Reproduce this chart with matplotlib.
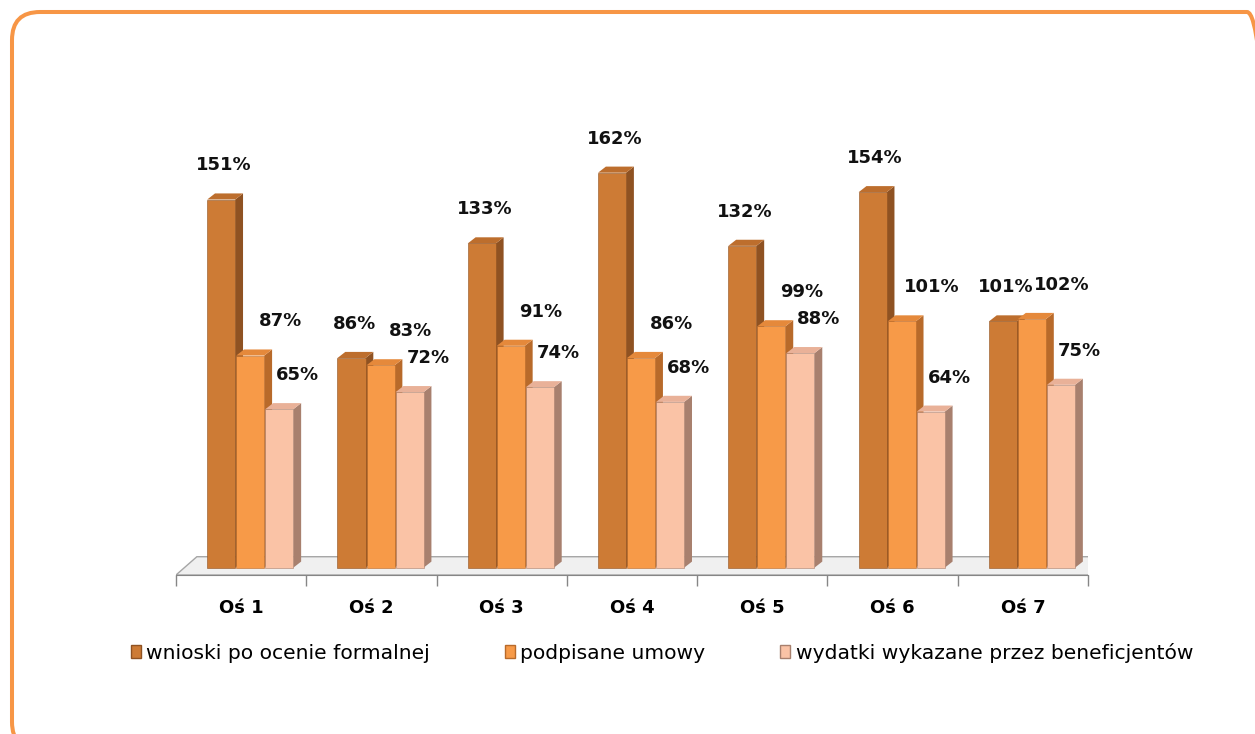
import matplotlib.pyplot as plt
from matplotlib.patches import Polygon, Patch, FancyBboxPatch
from matplotlib.transforms import IdentityTransform

categories = ["Oś 1", "Oś 2", "Oś 3", "Oś 4", "Oś 5", "Oś 6", "Oś 7"]
series_names = ["wnioski po ocenie formalnej", "podpisane umowy",
                "wydatki wykazane przez beneficjentów"]
wnioski = [151, 86, 133, 162, 132, 154, 101]
umowy = [87, 83, 91, 86, 99, 101, 102]
wydatki = [65, 72, 74, 68, 88, 64, 75]
series = [wnioski, umowy, wydatki]

front = ["#CD7B35", "#F79A48", "#FAC3A6"]
side = ["#8F5222", "#B86A2A", "#A8806E"]
top = ["#BD6E2D", "#E5893B", "#E9B198"]
label_dx = [0.02, 0.23, 0.14]

fig = plt.figure(figsize=(12.55, 7.34), dpi=100)
ax = fig.add_axes([176 / 1255, (734 - 575) / 734, 912 / 1255, 434 / 734])

w = 0.215
step = 0.223
dx = 0.06     # depth offset in x (data units)
dy = 2.5      # depth offset in y (data units)

# floor
floor = Polygon([(-0.5, -3), (6.5, -3), (6.66, 4.5), (-0.34, 4.5)],
                closed=True, facecolor="#F0F0F0", edgecolor="#A6A6A6", lw=1, zorder=1)
ax.add_patch(floor)

for i in range(len(categories)):
    for j, vals in enumerate(series):
        v = vals[i]
        xc = i + 0.07 + (j - 1) * step
        x0, x1 = xc - w / 2, xc + w / 2
        z = 2 + i * 3 + j
        ax.add_patch(Polygon([(x1, 0), (x1 + dx, dy), (x1 + dx, v + dy), (x1, v)],
                             closed=True, facecolor=side[j], edgecolor="none", zorder=z))
        ax.add_patch(Polygon([(x0, v), (x0 + dx, v + dy), (x1 + dx, v + dy), (x1, v)],
                             closed=True, facecolor=top[j], edgecolor="none", zorder=z))
        ax.bar(xc, v, width=w, color=front[j], edgecolor=side[j], linewidth=0.4, zorder=z)
        ax.text(xc + label_dx[j], v + 14, f"{v}%", ha="center", va="center",
                fontsize=13, fontweight="bold", color="#111111", zorder=50)

ax.set_xlim(-0.5, 6.5)
ax.set_ylim(-3, 175)
for s in ["top", "left", "right"]:
    ax.spines[s].set_visible(False)
ax.spines["bottom"].set_color("#868686")
ax.set_yticks([])
ax.set_xticks(range(len(categories)))
ax.set_xticklabels(categories, fontsize=13, fontweight="bold")
ax.tick_params(axis="x", which="major", length=0, pad=17)
ax.set_xticks([k - 0.5 for k in range(len(categories) + 1)], minor=True)
ax.tick_params(axis="x", which="minor", length=8, color="#868686", width=1)

handles = [Patch(facecolor=front[j], edgecolor=side[j], label=series_names[j]) for j in range(3)]
fig.legend(handles=handles, loc="center", bbox_to_anchor=(662 / 1255, 1 - 653 / 734),
           ncol=3, frameon=False, fontsize=14.6, handlelength=0.5, handleheight=0.6,
           handletextpad=0.25, columnspacing=3.7, borderpad=0)

frame = FancyBboxPatch((12, -16), 1263, 738, boxstyle="round,pad=0,rounding_size=28",
                       transform=IdentityTransform(), facecolor="none",
                       edgecolor="#F79646", linewidth=2.9)
fig.add_artist(frame)

fig.savefig("out.png", dpi=100)
